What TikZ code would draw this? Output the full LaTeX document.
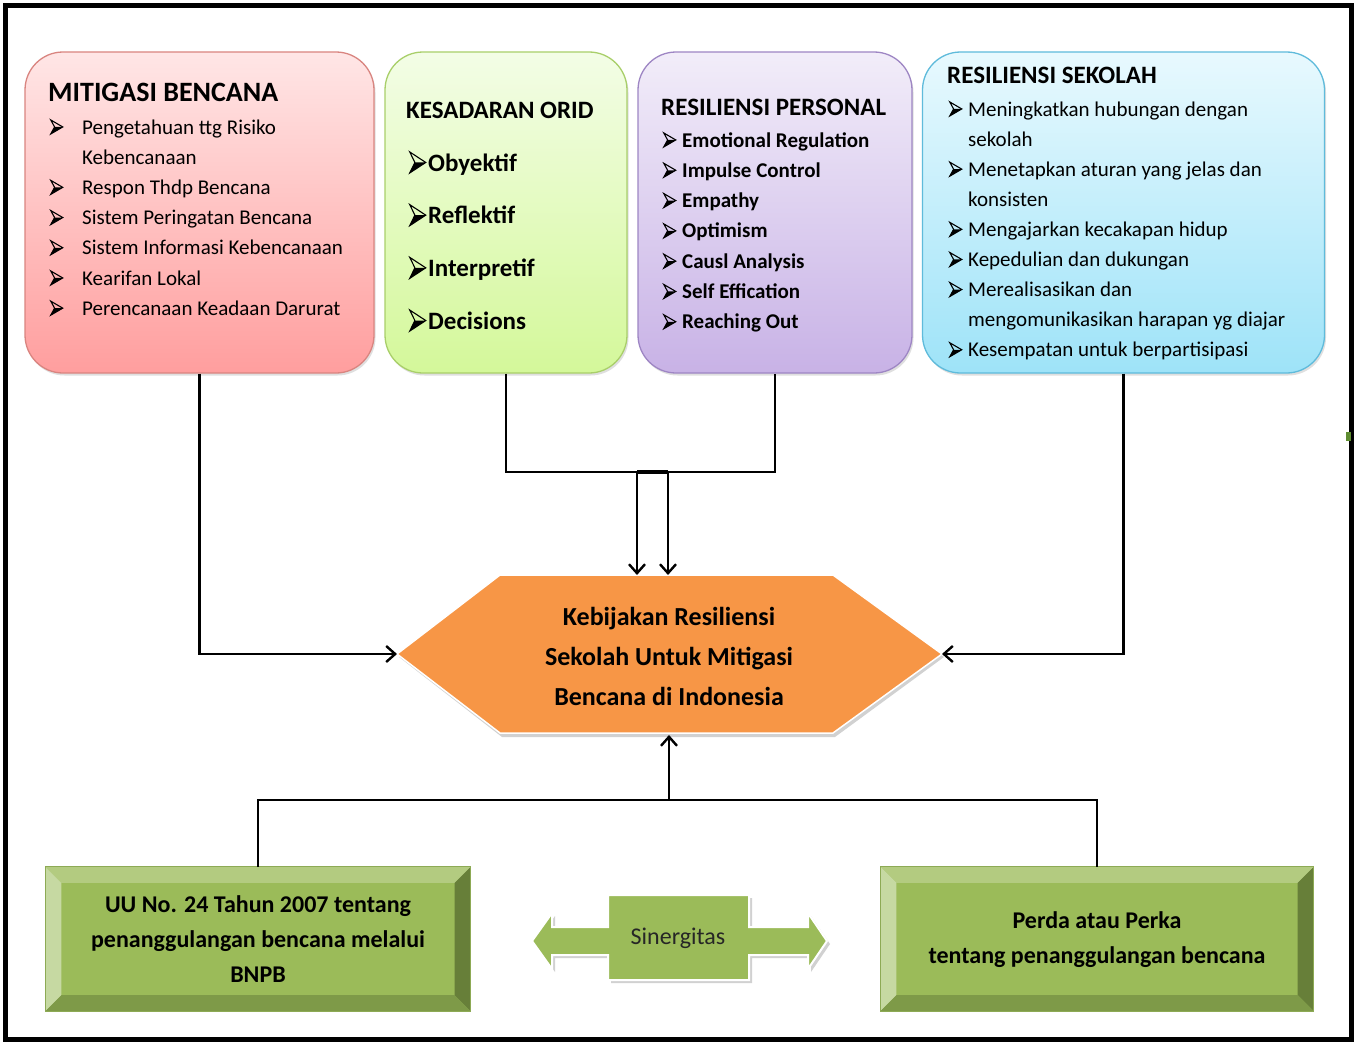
\documentclass[tikz,border=0pt]{standalone}
\usepackage{fontspec}
\setmainfont{Carlito}
\usetikzlibrary{arrows.meta,shadows,calc}
\definecolor{pinkT}{HTML}{FFE6E6}
\definecolor{pinkB}{HTML}{FF9E9E}
\definecolor{pinkD}{HTML}{D98580}
\definecolor{grnT}{HTML}{F3FDE6}
\definecolor{grnB}{HTML}{D4F89A}
\definecolor{grnD}{HTML}{A9CF6A}
\definecolor{purT}{HTML}{F2EDF9}
\definecolor{purB}{HTML}{C8B2E6}
\definecolor{purD}{HTML}{9E86C4}
\definecolor{bluT}{HTML}{E8F9FE}
\definecolor{bluB}{HTML}{9EE3F8}
\definecolor{bluD}{HTML}{5FBBDB}
\definecolor{hexO}{HTML}{F79646}
\definecolor{bvface}{HTML}{9BBB59}
\definecolor{bvtop}{HTML}{B3CB80}
\definecolor{bvleft}{HTML}{C6D9A2}
\definecolor{bvright}{HTML}{677F39}
\definecolor{bvbot}{HTML}{7E9A48}
\definecolor{bvline}{HTML}{8DAA55}
\definecolor{markG}{HTML}{5E8C30}
\definecolor{sinT}{HTML}{262626}
% arrowhead bullet: #1 width, #2 height, #3 drop below baseline
\newcommand\mybul[3]{\raisebox{-#3pt}{\tikz[x=1pt,y=1pt,line join=miter]{%
  \fill[black] (0,0) -- (#1,#2/2) -- (0.32*#1,#2/2) -- cycle;
  \draw[black, line width=1.1pt] (0,#2) -- (#1,#2/2) -- (0,0) -- (0.32*#1,#2/2) -- cycle;}}}
\newcommand\drawbevel[1]{%
  \fill[bvface] (#1.north west) rectangle (#1.south east);
  \fill[bvtop] (#1.north west) -- (#1.north east) -- ([shift={(-16,16)}]#1.north east) -- ([shift={(16,16)}]#1.north west) -- cycle;
  \fill[bvleft] (#1.north west) -- ([shift={(16,16)}]#1.north west) -- ([shift={(16,-16)}]#1.south west) -- (#1.south west) -- cycle;
  \fill[bvright] (#1.north east) -- ([shift={(-16,16)}]#1.north east) -- ([shift={(-16,-16)}]#1.south east) -- (#1.south east) -- cycle;
  \fill[bvbot] (#1.south west) -- ([shift={(16,-16)}]#1.south west) -- ([shift={(-16,-16)}]#1.south east) -- (#1.south east) -- cycle;
  \draw[bvline, line width=0.8pt] (#1.north west) rectangle (#1.south east);
}
\tikzset{
  topbox/.style={rounded corners=38pt, line width=1.3pt, inner sep=0pt,
    drop shadow={shadow xshift=1.5pt, shadow yshift=-2.5pt, opacity=0.25}},
  conn/.style={line width=2.4pt, -{Straight Barb[length=9pt,width=16pt,line width=2.4pt]}},
  plain/.style={line width=2.4pt},
  txt/.style={inner sep=0pt, anchor=base west},
}
\newcommand\bsm{\mybul{12}{14}{0.5}}
\newcommand\bbg{\mybul{16}{21}{2.5}}
\begin{document}
\begin{tikzpicture}[x=1pt,y=-1pt]
\useasboundingbox (0,0) rectangle (1354,1041);
\fill[white] (0,0) rectangle (1354,1041);

% ---- top boxes
\node[topbox, draw=pinkD, top color=pinkT, bottom color=pinkB,
      minimum width=349pt, minimum height=321pt] (m) at (199.5,212.5) {};
\node[topbox, draw=grnD, top color=grnT, bottom color=grnB,
      minimum width=242pt, minimum height=321pt] (k) at (506,212.5) {};
\node[topbox, draw=purD, top color=purT, bottom color=purB,
      minimum width=274pt, minimum height=321pt] (p) at (775,212.5) {};
\node[topbox, draw=bluD, top color=bluT, bottom color=bluB,
      minimum width=402pt, minimum height=321pt] (s) at (1123.5,212.5) {};

% ---- box 1 text
\node[txt, font=\bfseries\fontsize{28}{30}\selectfont] (mt) at (48,101) {MITIGASI BENCANA};
\node[txt, font=\fontsize{21}{30.2}\selectfont] (ml) at (50,134) {%
\begin{tabular}[t]{@{}p{32pt}@{}l@{}}
\bsm & Pengetahuan ttg Risiko\\
 & Kebencanaan\\
\bsm & Respon Thdp  Bencana\\
\bsm & Sistem Peringatan Bencana\\
\bsm & Sistem Informasi Kebencanaan\\
\bsm & Kearifan Lokal\\
\bsm & Perencanaan Keadaan Darurat
\end{tabular}};

% ---- box 2 text
\node[txt, font=\bfseries\fontsize{25}{30}\selectfont] (kt) at (406,118) {KESADARAN ORID};
\node[txt, font=\bfseries\fontsize{25}{52.7}\selectfont] (kl) at (409,171) {%
\begin{tabular}[t]{@{}p{19pt}@{}l@{}}
\bbg & Obyektif\\
\bbg & Reflektif\\
\bbg & Interpretif\\
\bbg & Decisions
\end{tabular}};

% ---- box 3 text
\node[txt, font=\bfseries\fontsize{25}{30}\selectfont] (pt) at (661,115) {RESILIENSI PERSONAL};
\node[txt, font=\bfseries\fontsize{21}{30.3}\selectfont] (pl) at (663,147) {%
\begin{tabular}[t]{@{}p{19pt}@{}l@{}}
\bsm & Emotional Regulation\\
\bsm & Impulse Control\\
\bsm & Empathy\\
\bsm & Optimism\\
\bsm & Causl Analysis\\
\bsm & Self Effication\\
\bsm & Reaching Out
\end{tabular}};

% ---- box 4 text
\node[txt, font=\bfseries\fontsize{25}{30}\selectfont] (st) at (947,84) {RESILIENSI SEKOLAH};
\node[txt, font=\fontsize{21}{30.1}\selectfont] (sl) at (949,116) {%
\begin{tabular}[t]{@{}p{19pt}@{}l@{}}
\bsm & Meningkatkan hubungan dengan\\
 & sekolah\\
\bsm & Menetapkan aturan yang jelas dan\\
 & konsisten\\
\bsm & Mengajarkan kecakapan hidup\\
\bsm & Kepedulian dan dukungan\\
\bsm & Merealisasikan dan\\
 & mengomunikasikan harapan yg diajar\\
\bsm & Kesempatan untuk berpartisipasi
\end{tabular}};

% ---- hexagon
\coordinate (hL) at (397,654);
\coordinate (hR) at (942,654);
\coordinate (hT1) at (637,575);
\coordinate (hT2) at (668,575);
\coordinate (hB) at (669,735);
\fill[black, opacity=0.18] (399,657) -- (502,578) -- (835,578) -- (944,657) -- (835,737) -- (502,737) -- cycle;
\draw[white, line width=1.5pt, fill=hexO] (397,654) -- (500,575) -- (833,575) -- (942,654) -- (833,733) -- (500,733) -- cycle;
\node[inner sep=0pt, align=center, font=\bfseries\fontsize{26}{40}\selectfont] (h) at (669,656)
  {Kebijakan Resiliensi\\Sekolah Untuk Mitigasi\\Bencana di Indonesia};

% ---- bottom boxes
\node[inner sep=0pt, minimum width=425pt, minimum height=144pt] (uu) at (258,939) {};
\node[inner sep=0pt, minimum width=433pt, minimum height=144pt] (perda) at (1097,939) {};
\drawbevel{uu}
\drawbevel{perda}
\node[inner sep=0pt, align=center, font=\bfseries\fontsize{24}{35}\selectfont] (uut) at (258,939)
  {UU No. 24 Tahun 2007 tentang\\penanggulangan bencana melalui\\BNPB};
\node[inner sep=0pt, align=center, font=\bfseries\fontsize{24}{35}\selectfont] (perdat) at (1097,940)
  {Perda atau Perka\\tentang penanggulangan bencana};

% ---- sinergitas double arrow
\fill[black, opacity=0.18] (535,944) -- (555,916) -- (555,930) -- (611,930) -- (611,898) -- (752,898) -- (752,930) -- (811,930) -- (811,916) -- (830,944) -- (811,972) -- (811,958) -- (752,958) -- (752,983) -- (611,983) -- (611,958) -- (555,958) -- (555,972) -- cycle;
\draw[white, line width=2pt, fill=bvface] (532,941) -- (552,913) -- (552,927) -- (608,927) -- (608,895) -- (749,895) -- (749,927) -- (808,927) -- (808,913) -- (827,941) -- (808,969) -- (808,955) -- (749,955) -- (749,980) -- (608,980) -- (608,955) -- (552,955) -- (552,969) -- cycle;
\node[inner sep=0pt, text=sinT, font=\fontsize{24}{28}\selectfont] (sin) at (678,938) {Sinergitas};

% ---- connectors
\draw[conn] (m.south) |- (hL);
\draw[conn] (s.south) |- (hR);
\coordinate (bar) at (650,472);
\draw[plain] (k.south) -- (k.south |- bar) -- (p.south |- bar) -- (p.south);
\draw[line width=3.5pt] (hT1 |- bar) -- (hT2 |- bar);
\draw[conn] (hT1 |- bar) -- (hT1);
\draw[conn] (hT2 |- bar) -- (hT2);
\coordinate (bb) at (669,800);
\draw[plain] (uu.north) |- (bb) -| (perda.north);
\draw[conn] (bb) -- (hB);

% ---- frame
\draw[line width=5pt] (5.5,5.5) rectangle (1351.5,1039);
\fill[markG] (1346,432) rectangle (1351,441);
\end{tikzpicture}
\end{document}
